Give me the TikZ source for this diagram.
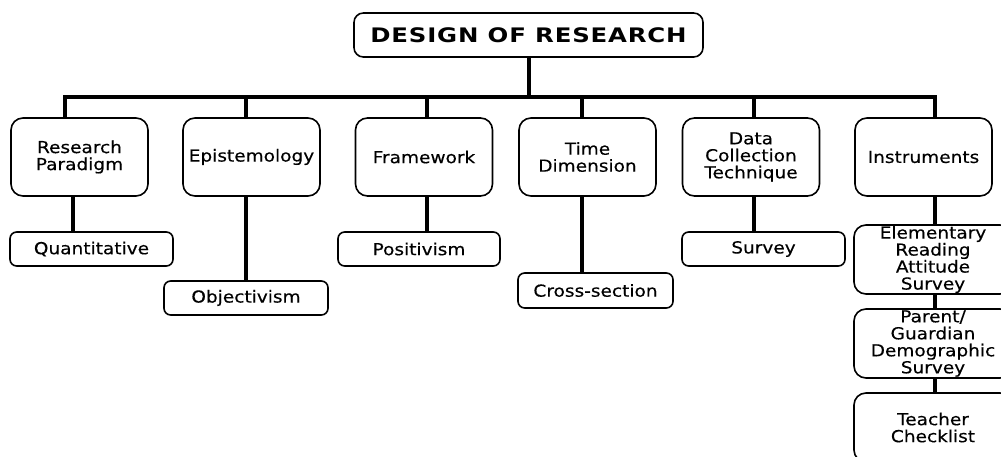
\documentclass[tikz,border=0pt]{standalone}
\usepackage{fontspec}
\setmainfont[FakeStretch=1.12,FakeBold=0.4]{DejaVu Sans}
\newfontfamily\titlefont[FakeStretch=1.22,LetterSpace=4]{DejaVu Sans}
\usetikzlibrary{calc}

\begin{document}
\begin{tikzpicture}[x=0.75pt,y=-0.75pt,
	box/.style={draw,line width=1.2pt,rounded corners=9pt,align=center,inner sep=0pt,
		font=\fontsize{12.4}{12.75}\selectfont},
	head/.style={box,minimum width=137*0.75pt,minimum height=78*0.75pt},
	leaf/.style={box,rounded corners=5pt,minimum height=34*0.75pt},
	inst/.style={box,minimum width=158*0.75pt,minimum height=69*0.75pt},
	link/.style={line width=3pt}]
	\useasboundingbox (0,0) rectangle (1001,457);
	\clip (0,0) rectangle (1001,457);

	\node[box,rounded corners=7pt,minimum width=349*0.75pt,minimum height=44*0.75pt,
		font=\titlefont\fontsize{15}{17}\selectfont\bfseries] (design) at (528.5,35) {DESIGN OF RESEARCH};

	\node[head] (paradigm) at (79.5,157) {Research\\Paradigm};
	\node[head] (episte) at (251.5,157) {Epistemology};
	\node[head] (frame) at (424,157) {Framework};
	\node[head] (time) at (587.5,157) {Time\\Dimension};
	\node[head] (collect) at (751,157) {Data\\Collection\\Technique};
	\node[head] (instr) at (923.5,157) {Instruments};

	\node[leaf,minimum width=163*0.75pt] (quanti) at (91.5,249) {Quantitative};
	\node[leaf,minimum width=164*0.75pt] (objecti) at (246,298) {Objectivism};
	\node[leaf,minimum width=162*0.75pt] (positiv) at (419,249) {Positivism};
	\node[leaf,minimum width=155*0.75pt,minimum height=35*0.75pt] (cross) at (595.5,290.5) {Cross-section};
	\node[leaf,minimum width=163*0.75pt] (survey) at (763.5,249) {Survey};
	\node[inst] (eras) at (933,259.5) {Elementary\\Reading\\Attitude\\Survey};
	\node[inst] (pgds) at (933,343.5) {Parent/\\Guardian\\Demographic\\Survey};
	\node[inst] (check) at (933,427.5) {Teacher\\Checklist};

	\coordinate (b1) at (65,97);
	\coordinate (b2) at (246,97);
	\coordinate (b3) at (427,97);
	\coordinate (b4) at (582,97);
	\coordinate (b5) at (754,97);
	\coordinate (b6) at (935,97);
	\coordinate (k1) at (73,97);

	\draw[link] (design.south) -- (design.south |- b1);
	\draw[link] (b1 |- paradigm.north) -- (b1) -- (b6) -- (b6 |- instr.north);
	\foreach \c/\n in {b2/episte,b3/frame,b4/time,b5/collect}
		\draw[link] (\c) -- (\c |- \n.north);
	\foreach \c/\a/\b in {k1/paradigm/quanti,b2/episte/objecti,b3/frame/positiv,b4/time/cross,
		b5/collect/survey,b6/instr/eras,b6/eras/pgds,b6/pgds/check}
		\draw[link] (\c |- \a.south) -- (\c |- \b.north);
\end{tikzpicture}
\end{document}
